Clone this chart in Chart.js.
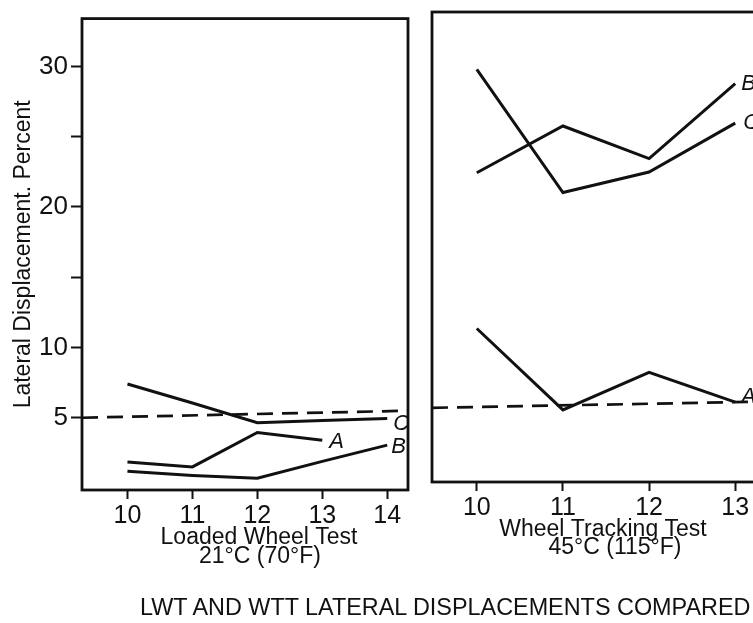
<!DOCTYPE html>
<html>
<head>
<meta charset="utf-8">
<script src="https://cdn.jsdelivr.net/npm/chart.js@4.4.0/dist/chart.umd.min.js"></script>
<style>
  html, body { margin: 0; padding: 0; background: #fff; overflow: hidden; width: 753px; height: 623px; }
  #wrap { position: relative; width: 753px; height: 623px; overflow: hidden; }
  #lwtChart { position: absolute; left: 0; top: 0; }
  #wttChart { position: absolute; left: 420px; top: 0; }
  #caption { position: absolute; left: 140px; top: 594px; font: 23.4px 'Liberation Sans', Arial, sans-serif; color: #111; white-space: nowrap; }
</style>
</head>
<body>
<div id="wrap">
  <canvas id="lwtChart" width="420" height="623"></canvas>
  <canvas id="wttChart" width="380" height="623"></canvas>
  <div id="caption">LWT AND WTT LATERAL DISPLACEMENTS COMPARED</div>
</div>
<script>
// Loaded Wheel Test, 21°C
const lwtX = [10, 11, 12, 13, 14];
const lwtA = [1.85, 1.5, 3.95, 3.4];
const lwtB = [1.2, 0.9, 0.7, 1.9, 3.05];
const lwtC = [7.4, 6.05, 4.65, 4.8, 4.95];
const lwtLimitX = [9.3, 14.32];
const lwtLimit = [5.0, 5.5];
const lwtTitle = ['Loaded Wheel Test', '21°C (70°F)'];

// Wheel Tracking Test, 45°C
const wttX = [10, 11, 12, 13];
const wttA = [10.7, 4.95, 7.6, 5.5];
const wttB = [21.7, 25.0, 22.7, 28.0];
const wttC = [29.0, 20.3, 21.75, 25.2];
const wttLimitX = [9.48, 13.45];
const wttLimit = [5.1, 5.55];
const wttTitle = ['Wheel Tracking Test', '45°C (115°F)'];

const yTicks = [5, 10, 15, 20, 25, 30];
const yTickLabels = ['5', '10', '', '20', '', '30'];
const yTitle = 'Lateral Displacement. Percent';
const seriesNames = ['A', 'B', 'C'];

const INK = '#111';
const FONT = "'Liberation Sans', Arial, sans-serif";
Chart.defaults.font.family = FONT;
Chart.defaults.color = INK;

function pts(xs, ys) {
  return ys.map((y, i) => ({ x: xs[i], y: y }));
}

function line(name, xs, ys, dx, dy) {
  return { label: name, data: pts(xs, ys), borderColor: INK, borderWidth: 3, pointRadius: 0, tension: 0, tagDx: dx, tagDy: dy };
}

function limitLine(xs, ys) {
  return { label: 'limit', data: pts(xs, ys), borderColor: INK, borderWidth: 2.7, borderDash: [16, 9], pointRadius: 0 };
}

// frame, series letters and two-line axis captions
const decor = {
  id: 'decor',
  afterDraw(chart, args, opts) {
    const { ctx, chartArea: a } = chart;
    ctx.save();
    ctx.strokeStyle = INK;
    ctx.lineWidth = 2.8;
    ctx.strokeRect(a.left, a.top, a.right - a.left, a.bottom - a.top);

    ctx.fillStyle = INK;
    ctx.font = 'italic 22px ' + FONT;
    ctx.textBaseline = 'middle';
    ctx.textAlign = 'left';
    chart.data.datasets.forEach((ds, i) => {
      if (!seriesNames.includes(ds.label)) return;
      const pt = chart.getDatasetMeta(i).data.at(-1);
      ctx.fillText(ds.label, pt.x + ds.tagDx, pt.y + ds.tagDy);
    });

    ctx.font = '23px ' + FONT;
    ctx.textAlign = 'center';
    opts.lines.forEach((txt, i) => {
      ctx.fillText(txt, opts.cx[i], opts.cy[i]);
    });
    ctx.restore();
  }
};

function xScale(min, max, ticks, height) {
  return {
    type: 'linear', min: min, max: max,
    afterBuildTicks: s => { s.ticks = ticks.map(v => ({ value: v })); },
    afterFit: s => { s.height = height; },
    border: { display: false },
    grid: { drawOnChartArea: false, drawTicks: true, tickLength: 9, tickWidth: 2, tickColor: INK },
    ticks: { font: { size: 25 }, padding: 2, color: INK, maxRotation: 0 }
  };
}

new Chart(document.getElementById('lwtChart'), {
  type: 'line',
  data: {
    datasets: [
      line('C', lwtX, lwtC, 6, 5),
      line('A', lwtX, lwtA, 7, 2),
      line('B', lwtX, lwtB, 4, 2),
      limitLine(lwtLimitX, lwtLimit)
    ]
  },
  options: {
    responsive: false,
    animation: false,
    layout: { padding: { top: 15, right: 12, bottom: 0, left: 0 } },
    plugins: {
      legend: { display: false },
      tooltip: { enabled: false },
      decor: { lines: lwtTitle, cx: [259, 260], cy: [538, 557] }
    },
    scales: {
      x: xScale(9.3, 14.32, lwtX, 133),
      y: {
        type: 'linear', min: -0.14, max: 33.4,
        afterBuildTicks: s => { s.ticks = yTicks.map(v => ({ value: v })); },
        afterFit: s => { s.width = 82; },
        border: { display: false },
        grid: { drawOnChartArea: false, drawTicks: true, tickLength: 11, tickWidth: 2, tickColor: INK },
        ticks: { font: { size: 26 }, padding: 3, color: INK, callback: (v, i) => yTickLabels[i] },
        title: { display: true, text: yTitle, font: { size: 23 }, padding: { top: 10 }, color: INK }
      }
    }
  },
  plugins: [decor]
});

new Chart(document.getElementById('wttChart'), {
  type: 'line',
  data: {
    datasets: [
      line('B', wttX, wttB, 6, 0),
      line('C', wttX, wttC, 8, 0),
      line('A', wttX, wttA, 6, -5),
      limitLine(wttLimitX, wttLimit)
    ]
  },
  options: {
    responsive: false,
    animation: false,
    layout: { padding: { top: 12, right: 26, bottom: 0, left: 12 } },
    plugins: {
      legend: { display: false },
      tooltip: { enabled: false },
      decor: { lines: wttTitle, cx: [183, 195], cy: [530, 548] }
    },
    scales: {
      x: xScale(9.48, 13.45, wttX, 141),
      y: { type: 'linear', display: false, min: -0.14, max: 33.05 }
    }
  },
  plugins: [decor]
});
</script>
</body>
</html>
